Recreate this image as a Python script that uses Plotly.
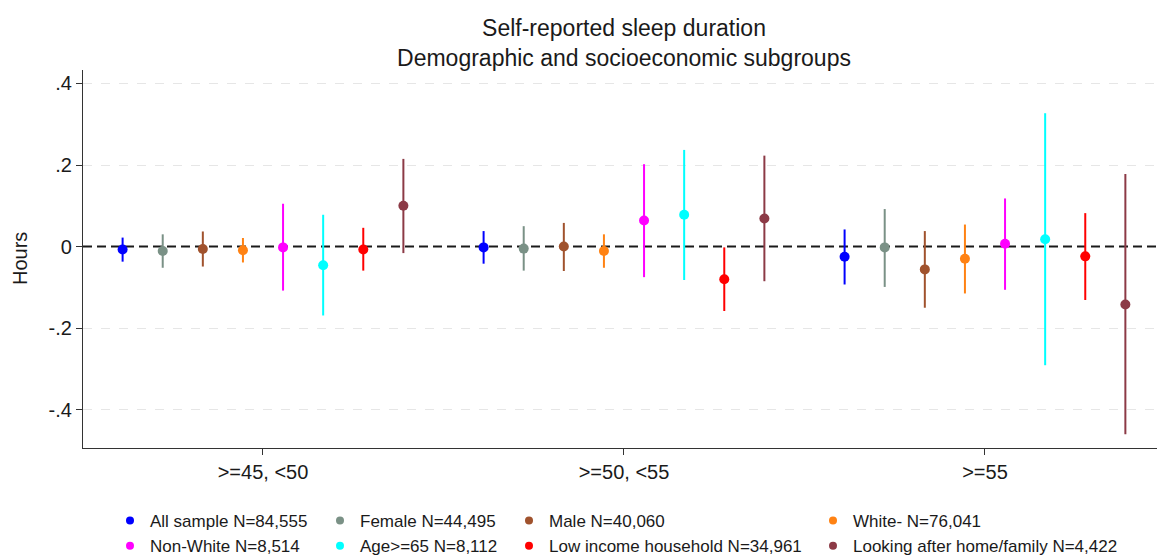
import plotly.graph_objects as go

# Age groups on the x axis
age_groups = [">=45, <50", ">=50, <55", ">=55"]

# Subgroups (legend order) and their colours
subgroups = [
    "All sample N=84,555",
    "Female N=44,495",
    "Male N=40,060",
    "White- N=76,041",
    "Non-White N=8,514",
    "Age>=65 N=8,112",
    "Low income household N=34,961",
    "Looking after home/family N=4,422",
]
colors = ["#0000ff", "#7a9186", "#a0522d", "#ff8213",
          "#ff00ff", "#00ffff", "#ff0000", "#8c3a46"]

# Point estimates and 95% CI bounds (hours), one list per age group
est_45_50 = [-0.007, -0.011, -0.006, -0.009, -0.002, -0.046, -0.007, 0.100]
lo_45_50 = [-0.037, -0.052, -0.049, -0.039, -0.108, -0.169, -0.059, -0.016]
hi_45_50 = [0.022, 0.030, 0.037, 0.021, 0.105, 0.078, 0.046, 0.215]

est_50_55 = [-0.002, -0.005, 0.000, -0.011, 0.064, 0.078, -0.080, 0.069]
lo_50_55 = [-0.042, -0.059, -0.060, -0.052, -0.075, -0.082, -0.158, -0.085]
hi_50_55 = [0.038, 0.050, 0.058, 0.030, 0.202, 0.237, -0.002, 0.223]

est_55 = [-0.025, -0.002, -0.056, -0.030, 0.007, 0.018, -0.024, -0.142]
lo_55 = [-0.093, -0.099, -0.150, -0.115, -0.106, -0.291, -0.131, -0.460]
hi_55 = [0.042, 0.092, 0.038, 0.054, 0.118, 0.327, 0.082, 0.178]

y_ticks = [-0.4, -0.2, 0, 0.2, 0.4]
y_tick_text = ["-.4", "-.2", "0", ".2", ".4"]
y_grid = [-0.4, -0.2, 0.2, 0.4]

FONT = "Liberation Sans, Arial, sans-serif"
W, H = 1157, 555
M_LEFT, M_RIGHT = 83, 0
PLOT_W = W - M_LEFT - M_RIGHT

estimates = [est_45_50, est_50_55, est_55]
lowers = [lo_45_50, lo_50_55, lo_55]
uppers = [hi_45_50, hi_50_55, hi_55]

n = len(subgroups)
fig = go.Figure()

# legend columns: (legend id, left position in px)
legend_cols = [("legend", 110), ("legend2", 320), ("legend3", 509), ("legend4", 813)]

for i, (name, col) in enumerate(zip(subgroups, colors)):
    xs, ys, up, dn = [], [], [], []
    for g in range(len(age_groups)):
        xs.append(g + 1 + (i - (n - 1) / 2) / (n + 1))
        ys.append(estimates[g][i])
        up.append(uppers[g][i] - estimates[g][i])
        dn.append(estimates[g][i] - lowers[g][i])
    fig.add_trace(go.Scatter(
        x=xs, y=ys, mode="markers", showlegend=False,
        marker=dict(size=10, color=col),
        error_y=dict(type="data", symmetric=False, array=up, arrayminus=dn,
                     color=col, thickness=2, width=0),
    ))
    # legend entry (4 columns x 2 rows) with a smaller key symbol
    fig.add_trace(go.Scatter(
        x=[None], y=[None], mode="markers", name=name,
        marker=dict(size=8, color=col),
        legend=legend_cols[i % 4][0], legendgroup=name,
    ))

# dashed reference line at zero
fig.add_shape(type="line", xref="paper", x0=0, x1=1, yref="y", y0=0, y1=0,
              line=dict(color="#1a1a1a", width=2, dash="9px,5px"), layer="between")

# y-axis title
fig.add_annotation(text="Hours", textangle=-90, showarrow=False,
                   xref="paper", x=(20 - M_LEFT) / PLOT_W, xanchor="center",
                   yref="paper", y=0.5, yanchor="middle",
                   font=dict(family=FONT, size=20, color="#1a1a1a"))

legend_common = dict(
    orientation="v", xref="container", yref="container",
    xanchor="left", yanchor="top",
    font=dict(family=FONT, size=17, color="#1a1a1a"),
    bgcolor="rgba(0,0,0,0)", borderwidth=0, tracegroupgap=0,
    itemclick=False, itemdoubleclick=False,
)
legend_layout = {}
for key, px in legend_cols:
    legend_layout[key] = dict(legend_common, x=px / W, y=1 - 503 / H)

fig.update_layout(
    width=W, height=H,
    margin=dict(l=M_LEFT, r=M_RIGHT, t=70, b=107, autoexpand=False),
    paper_bgcolor="white", plot_bgcolor="white",
    font=dict(family=FONT, size=20, color="#1a1a1a"),
    title=dict(
        text="Self-reported sleep duration<br>Demographic and socioeconomic subgroups",
        font=dict(family=FONT, size=23, color="#1a1a1a"),
        x=624 / W, xanchor="center", xref="container",
        y=1 - 36 / H, yanchor="top", yref="container",
    ),
    xaxis=dict(
        range=[0.5014, 3.4765], autorange=False,
        tickvals=[1, 2, 3], ticktext=age_groups,
        ticks="outside", ticklen=6, tickwidth=1.3, tickcolor="#333333",
        showline=True, linecolor="#333333", linewidth=1.3,
        showgrid=False, zeroline=False, automargin=False,
        tickfont=dict(family=FONT, size=20, color="#1a1a1a"),
    ),
    yaxis=dict(
        range=[-0.494, 0.433], autorange=False,
        tickvals=y_ticks, ticktext=y_tick_text,
        ticks="outside", ticklen=6, tickwidth=1.3, tickcolor="#333333",
        showline=True, linecolor="#333333", linewidth=1.3,
        showgrid=False, zeroline=False, automargin=False,
        minor=dict(tickvals=y_grid, ticks="", showgrid=True,
                   gridcolor="#e6e6e6", gridwidth=1.3, griddash="dash"),
        tickfont=dict(family=FONT, size=20, color="#1a1a1a"),
    ),
    **legend_layout,
)

fig.write_html("out.html")
